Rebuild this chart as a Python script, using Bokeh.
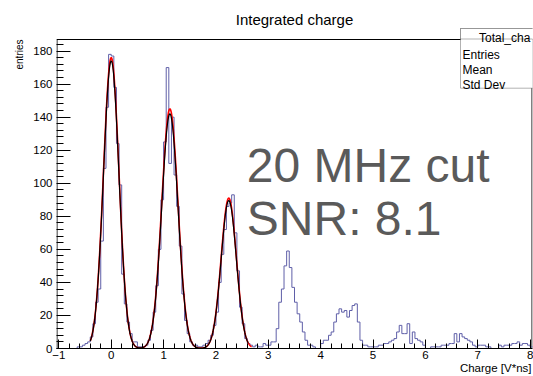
import numpy as np
from bokeh.plotting import figure
from bokeh.models import (Range1d, FixedTicker, SingleIntervalTicker, Label,
                          BoxAnnotation, Title)
from bokeh.embed import file_html
from bokeh.resources import INLINE

# ---------------- data ----------------
title_text = "Integrated charge"
x_label = "Charge [V*ns]"
y_label = "entries"
stats_header = "Total_cha"          # visible part of the stats-box title
stats_rows = ["Entries", "Mean", "Std Dev"]
annot_lines = ["20 MHz cut", "SNR: 8.1"]

x_ticks = [-1, 0, 1, 2, 3, 4, 5, 6, 7, 8]
y_ticks = [0, 20, 40, 60, 80, 100, 120, 140, 160, 180]
y_minor_step = 4

bin_lo = -1.05
bin_width = 0.05
# histogram counts, grouped per unit interval of the charge axis
counts_edge_lo = [0]                                   # [-1.05, -1.00)
counts_m1 = [0, 0, 0, 0, 0, 0, 0, 1, 1, 2, 3, 4, 7, 15, 28, 36, 65, 109, 146, 178]
counts_0 = [177, 158, 124, 99, 45, 27, 16, 9, 4, 4, 1, 1, 1, 2, 5, 11, 22, 38, 60, 90]
counts_1 = [125, 170, 112, 140, 105, 86, 62, 33, 17, 9, 4, 2, 2, 1, 1, 2, 3, 5, 8, 14]
counts_2 = [22, 40, 57, 72, 86, 88, 93, 70, 47, 25, 15, 6, 3, 2, 1, 2, 1, 1, 3, 2]
counts_3 = [2, 4, 4, 12, 28, 36, 50, 59, 49, 37, 28, 21, 16, 10, 5, 2, 2, 1, 0, 0]
counts_4 = [3, 5, 5, 8, 10, 16, 21, 24, 22, 23, 19, 23, 26, 27, 16, 5, 2, 2, 1, 1]
counts_5 = [1, 1, 2, 2, 3, 3, 4, 5, 6, 10, 14, 9, 9, 15, 3, 10, 6, 5, 4, 2]
counts_6 = [0, 0, 1, 1, 1, 1, 2, 2, 2, 3, 3, 9, 4, 9, 7, 6, 5, 4, 2, 1]
counts_7 = [2, 2, 2, 1, 1, 0, 0, 0, 2, 1, 2, 2, 2, 3, 3, 4, 2, 3, 3, 2]
counts_edge_hi = [1]                                   # [8.00, 8.05)

# multi-gaussian fit (red: total fit, black: second fit)
fit_means = [0.0, 1.12, 2.245]
fit_sigmas = [0.148, 0.155, 0.145]
red_amps = [176, 145, 91]
red_range = [-0.40, 2.68]
black_amps = [174, 142, 89.5]
black_range = [-0.40, 2.62]

# ---------------- layout ----------------
W, H = 533, 376
AX_LEFT, AX_TOP, AX_W, AX_H = 56, 39, 476, 309     # ROOT frame in pixels
X0, X1 = -1.045, 8.045
Y0, Y1 = 0, 187                                    # ROOT frame y extent
FONT = "Liberation Sans"
Y_PER_PX = (Y1 - Y0) / AX_H
Y_TOP = Y1 + AX_TOP * Y_PER_PX                     # plotting area reaches the canvas top

def xd(px):
    return X0 + (px - AX_LEFT) * (X1 - X0) / AX_W

def yd(py):
    return Y1 - (py - AX_TOP) * Y_PER_PX

p = figure(width=W, height=H, output_backend="svg", toolbar_location=None,
           x_range=Range1d(X0, X1), y_range=Range1d(Y0, Y_TOP),
           min_border_left=AX_LEFT, min_border_top=0,
           min_border_right=W - AX_LEFT - AX_W,
           min_border_bottom=H - AX_TOP - AX_H)
p.title.visible = False
p.background_fill_color = "white"
p.border_fill_color = "white"
p.outline_line_color = None
p.xgrid.visible = False
p.ygrid.visible = False

# axes
p.xaxis.ticker = SingleIntervalTicker(interval=1, num_minor_ticks=5)
minor_y = [v for v in range(0, int(Y1) + 1, y_minor_step) if v not in y_ticks]
p.yaxis.ticker = FixedTicker(ticks=y_ticks, minor_ticks=minor_y)
for ax, mj, mn, so in ((p.xaxis, 9, 5, 2), (p.yaxis, 14, 7, 4)):
    ax.major_tick_in = mj
    ax.major_tick_out = 0
    ax.minor_tick_in = mn
    ax.minor_tick_out = 0
    ax.major_tick_line_color = "black"
    ax.minor_tick_line_color = "black"
    ax.major_label_text_font = FONT
    ax.major_label_text_font_size = "11.5px"
    ax.major_label_text_color = "black"
    ax.major_label_standoff = so
p.xaxis.axis_line_color = "black"
p.yaxis.axis_line_color = None
p.xaxis.major_label_overrides = {-1: "\u22121"}

# ROOT frame lines (left axis line, top, right)
p.segment(x0=[xd(AX_LEFT + 0.5), X0, xd(AX_LEFT + AX_W - 0.5)],
          y0=[Y0, Y1, Y0],
          x1=[xd(AX_LEFT + 0.5), X1, xd(AX_LEFT + AX_W - 0.5)],
          y1=[Y1, Y1, Y1], line_color="black", line_width=1)

# histogram
counts = (counts_edge_lo + counts_m1 + counts_0 + counts_1 + counts_2 + counts_3
          + counts_4 + counts_5 + counts_6 + counts_7 + counts_edge_hi)
edges = bin_lo + bin_width * np.arange(len(counts) + 1)
p.step(x=edges, y=list(counts) + [counts[-1]], mode="after",
       line_color="#5f5fa8", line_width=1)

# fits
def fit_curve(amps, rng):
    xs = np.linspace(rng[0], rng[1], 600)
    ys = np.zeros_like(xs)
    for a, m, s in zip(amps, fit_means, fit_sigmas):
        ys += a * np.exp(-0.5 * ((xs - m) / s) ** 2)
    return xs, ys

rx, ry = fit_curve(red_amps, red_range)
p.line(rx, ry, line_color="red", line_width=1.6)
bx, by = fit_curve(black_amps, black_range)
p.line(bx, by, line_color="black", line_width=1.2)

# title
p.add_layout(Label(x=xd(AX_LEFT + AX_W / 2), y=yd(18.5), text=title_text,
                   text_align="center", text_baseline="alphabetic",
                   text_font=FONT, text_font_size="15px", text_color="black"))

# axis titles (outside the plotting area)
p.add_layout(Title(text=x_label, align="right", vertical_align="top", standoff=0,
                   offset=1, text_font=FONT, text_font_size="11.5px",
                   text_font_style="normal", text_color="black"), "below")
p.add_layout(Title(text=y_label, align="right", standoff=11, offset=AX_TOP,
                   text_font=FONT, text_font_size="10px",
                   text_font_style="normal", text_color="black"), "left")

# big annotation text
for line, base in zip(annot_lines, (165, 217.5)):
    p.add_layout(Label(x=xd(246.3), y=yd(base), text=line, text_align="left",
                       text_baseline="alphabetic", text_font=FONT,
                       text_font_size="48px", text_color="#5a5a5a"))

# stats box
p.add_layout(BoxAnnotation(left=xd(460), right=xd(600), top=yd(28), bottom=yd(87.7),
                           fill_color="white", fill_alpha=1.0,
                           line_color="black", line_width=1, level="overlay"))
p.add_layout(BoxAnnotation(left=xd(460), right=xd(600), top=yd(28), bottom=yd(38.5),
                           fill_color="white", fill_alpha=1.0,
                           line_color="black", line_width=1, level="overlay"))
p.add_layout(Label(x=xd(478.5), y=yd(37), text=stats_header, text_align="left",
                   text_baseline="alphabetic", text_font=FONT,
                   text_font_size="12px", text_color="black", level="overlay"))
for row, base in zip(stats_rows, (54.5, 69.5, 84.5)):
    p.add_layout(Label(x=xd(462), y=yd(base), text=row, text_align="left",
                       text_baseline="alphabetic", text_font=FONT,
                       text_font_size="12px", text_color="black", level="overlay"))

open("out.html", "w").write(file_html(p, INLINE))
